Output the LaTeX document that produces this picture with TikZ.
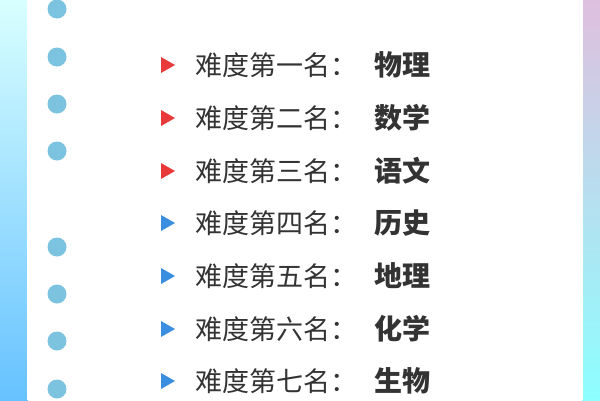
\documentclass[tikz,border=0pt]{standalone}
\usepackage{fontspec}
\newfontfamily\cjk{Noto Sans CJK SC}
\definecolor{dotc}{HTML}{7CC3DF}
\definecolor{redt}{HTML}{E83A3A}
\definecolor{bluet}{HTML}{3A8EE0}
\definecolor{txt}{HTML}{333333}
\begin{document}
\begin{tikzpicture}[x=1pt,y=-1pt,
  lab/.style={anchor=west,inner sep=0pt,font=\cjk\fontsize{27}{27}\selectfont,text=txt},
  subj/.style={anchor=east,inner sep=0pt,font=\cjk\bfseries\fontsize{28}{28}\selectfont,text=txt},
  dotn/.style={circle,fill=dotc,minimum size=19pt,inner sep=0pt}]
\useasboundingbox (0,0) rectangle (600,400);
\shade[top color=cyan!15,bottom color=cyan!60!blue!60] (0,0) rectangle (28,400);
\shade[top color=violet!25,bottom color=cyan!45] (582,0) rectangle (600,400);
\fill[white] (27,0) rectangle (583,400);
\foreach \y [count=\i] in {9,57,104,151,247,294,341,389}
  \node[dotn] (d\i) at (57,\y) {};
\foreach \y/\n/\s/\c [count=\i] in {65/一/物理/redt,118/二/数学/redt,171/三/语文/redt,223/四/历史/bluet,276/五/地理/bluet,329/六/化学/bluet,381/七/生物/bluet}{
  \fill[\c] (161,\y-8) -- (175,\y) -- (161,\y+8) -- cycle;
  \node[lab] (l\i) at (195,\y) {难度第\n 名：};
  \node[subj] (s\i) at (431,\y) {\s};
}
\end{tikzpicture}
\end{document}
